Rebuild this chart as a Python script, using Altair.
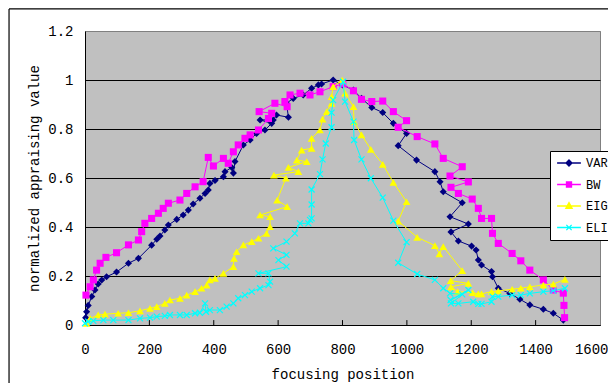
import altair as alt
import pandas as pd

SERIES = ["VAR", "BW", "EIG", "ELI"]
COLORS = ["#000080", "#FF00FF", "#FFFF00", "#00FFFF"]

VAR_X = [2, 5, 10, 21, 31, 41, 52, 67, 98, 135, 166, 207, 223, 233, 248, 259, 285, 305, 321, 336,
         357, 373, 383, 388, 404, 430, 435, 456, 461, 466, 492, 513, 533, 559, 580, 544, 585, 595, 632, 626,
         647, 678, 704, 725, 735, 771, 800, 834, 859, 891, 925, 958, 999, 973, 1030, 1087, 1103, 1113, 1172, 1134,
         1191, 1137, 1160, 1201, 1215, 1222, 1232, 1263, 1266, 1284, 1320, 1351, 1382, 1424, 1455, 1486]
VAR_Y = [0.03, 0.054, 0.08, 0.116, 0.143, 0.167, 0.184, 0.197, 0.216, 0.252, 0.272, 0.326, 0.35, 0.363, 0.388, 0.408, 0.431, 0.449, 0.469, 0.494,
         0.517, 0.537, 0.551, 0.578, 0.59, 0.605, 0.626, 0.643, 0.62, 0.667, 0.735, 0.755, 0.782, 0.796, 0.823, 0.837, 0.837, 0.857, 0.848, 0.905,
         0.925, 0.939, 0.966, 0.98, 0.984, 1.0, 0.98, 0.959, 0.925, 0.888, 0.867, 0.823, 0.782, 0.732, 0.673, 0.626, 0.585, 0.544, 0.499, 0.442,
         0.412, 0.38, 0.343, 0.322, 0.306, 0.265, 0.245, 0.218, 0.197, 0.15, 0.129, 0.105, 0.082, 0.064, 0.048, 0.02]

BW_X = [3, 16, 26, 36, 47, 65, 98, 135, 166, 176, 186, 207, 228, 243, 259, 295, 316, 342, 367, 383,
        399, 430, 445, 461, 476, 497, 513, 539, 570, 580, 541, 590, 628, 621, 637, 668, 699, 730, 771, 801,
        834, 859, 891, 925, 958, 999, 973, 1032, 1087, 1113, 1172, 1134, 1191, 1137, 1160, 1203, 1222, 1232, 1263, 1266,
        1284, 1327, 1354, 1382, 1424, 1455, 1486, 1488, 1490]
BW_Y = [0.122, 0.156, 0.184, 0.224, 0.252, 0.276, 0.295, 0.327, 0.347, 0.381, 0.415, 0.435, 0.456, 0.476, 0.497, 0.51, 0.537, 0.564, 0.585, 0.684,
        0.649, 0.68, 0.66, 0.707, 0.735, 0.762, 0.776, 0.796, 0.843, 0.864, 0.871, 0.905, 0.891, 0.912, 0.939, 0.946, 0.939, 0.952, 0.973, 0.984,
        0.956, 0.921, 0.912, 0.914, 0.871, 0.834, 0.807, 0.769, 0.739, 0.68, 0.646, 0.608, 0.584, 0.562, 0.537, 0.514, 0.476, 0.435, 0.435, 0.374,
        0.333, 0.292, 0.262, 0.224, 0.184, 0.143, 0.13, 0.08, 0.03]

EIG_X = [5, 16, 41, 62, 103, 135, 171, 202, 223, 248, 264, 295, 316, 342, 362, 378, 388, 404, 430, 461,
         463, 471, 492, 518, 539, 564, 575, 575, 544, 628, 597, 624, 587, 663, 632, 689, 658, 673, 704, 704,
         730, 738, 751, 766, 766, 771, 799, 808, 834, 836, 859, 888, 925, 958, 999, 973, 1032, 1087, 1101, 1113,
         1172, 1136, 1191, 1137, 1158, 1204, 1222, 1232, 1263, 1284, 1327, 1354, 1382, 1424, 1455, 1491]
EIG_Y = [0.007, 0.027, 0.041, 0.044, 0.048, 0.05, 0.058, 0.068, 0.075, 0.088, 0.102, 0.109, 0.122, 0.136, 0.15, 0.163, 0.184, 0.19, 0.211, 0.238,
         0.272, 0.299, 0.327, 0.34, 0.354, 0.374, 0.401, 0.442, 0.449, 0.483, 0.51, 0.599, 0.612, 0.626, 0.643, 0.667, 0.673, 0.714, 0.721, 0.762,
         0.796, 0.84, 0.871, 0.905, 0.932, 0.973, 1.0, 0.946, 0.891, 0.83, 0.776, 0.717, 0.656, 0.582, 0.503, 0.424, 0.358, 0.324, 0.29, 0.32,
         0.222, 0.181, 0.17, 0.156, 0.136, 0.132, 0.127, 0.127, 0.136, 0.139, 0.146, 0.15, 0.156, 0.163, 0.167, 0.186]

ELI_X = [0, 10, 26, 57, 88, 135, 171, 202, 223, 248, 264, 295, 316, 342, 357, 373, 376, 388, 419, 440,
         461, 476, 497, 518, 544, 570, 575, 570, 539, 626, 601, 626, 585, 626, 652, 668, 694, 699, 704, 704,
         704, 730, 738, 748, 766, 766, 771, 802, 808, 834, 836, 859, 888, 925, 958, 999, 973, 1032, 1087, 1113,
         1134, 1172, 1136, 1191, 1137, 1160, 1206, 1222, 1232, 1263, 1266, 1284, 1327, 1354, 1382, 1424, 1455, 1491]
ELI_Y = [0.007, 0.014, 0.017, 0.02, 0.02, 0.02, 0.027, 0.03, 0.034, 0.037, 0.041, 0.041, 0.041, 0.048, 0.05, 0.088, 0.054, 0.061, 0.061, 0.075,
         0.088, 0.109, 0.122, 0.136, 0.15, 0.163, 0.177, 0.211, 0.211, 0.238, 0.265, 0.286, 0.313, 0.34, 0.374, 0.415, 0.415, 0.429, 0.435, 0.492,
         0.553, 0.616, 0.676, 0.741, 0.807, 0.867, 0.918, 0.993, 0.912, 0.83, 0.755, 0.676, 0.599, 0.52, 0.426, 0.338, 0.254, 0.208, 0.184, 0.15,
         0.129, 0.125, 0.102, 0.143, 0.088, 0.088, 0.095, 0.086, 0.086, 0.095, 0.116, 0.116, 0.122, 0.122, 0.129, 0.136, 0.14, 0.15]

X_TICKS = [0, 200, 400, 600, 800, 1000, 1200, 1400, 1600]
Y_TICKS = [0, 0.2, 0.4, 0.6, 0.8, 1.0, 1.2]

FONT = "Liberation Mono"
XPATH = "M-1,-1L1,1M-1,1L1,-1"

data = {"VAR": (VAR_X, VAR_Y), "BW": (BW_X, BW_Y), "EIG": (EIG_X, EIG_Y), "ELI": (ELI_X, ELI_Y)}
rows = []
for s in SERIES:
    xs, ys = data[s]
    for i, (xv, yv) in enumerate(zip(xs, ys)):
        rows.append({"series": s, "x": xv, "y": yv, "i": i})
df = pd.DataFrame(rows)

# legend symbols: a horizontal line with the marker on it
LEG_PATHS = {
    "VAR": "M-1.7,0H1.7M0,-0.43L0.43,0L0,0.43L-0.43,0Z",
    "BW": "M-1.7,0H1.7M-0.36,-0.36H0.36V0.36H-0.36Z",
    "EIG": "M-1.7,0H1.7M0,-0.48L0.45,0.34H-0.45Z",
    "ELI": "M-1.7,0H1.7M-0.38,-0.38L0.38,0.38M-0.38,0.38L0.38,-0.38",
}
shape_expr = ("datum.value === 'VAR' ? '%s' : datum.value === 'BW' ? '%s' : datum.value === 'EIG' ? '%s' : '%s'"
              % (LEG_PATHS["VAR"], LEG_PATHS["BW"], LEG_PATHS["EIG"], LEG_PATHS["ELI"]))
color_expr = "scale('color', datum.value)"

leg = alt.Legend(
    title=None, orient="none", legendX=465, legendY=120, direction="vertical",
    fillColor="white", strokeColor="black", padding=2,
    labelFont=FONT, labelFontSize=12, labelColor="black",
    symbolSize=196, symbolOffset=9, labelOffset=9, clipHeight=20, rowPadding=1.5,
    symbolStrokeWidth=1.3, symbolOpacity=1,
    symbolType=alt.ExprRef(expr=shape_expr),
    symbolFillColor=alt.ExprRef(expr=color_expr),
    symbolStrokeColor=alt.ExprRef(expr=color_expr),
)

xenc = alt.X("x:Q", scale=alt.Scale(domain=[0, 1600], nice=False, zero=False),
             axis=alt.Axis(values=X_TICKS, format="d", ticks=False, grid=False, labelFlush=False,
                           labelAlign={"condition": {"test": "datum.value >= 1600", "value": "right"}, "value": "center"},
                           labelOffset={"condition": {"test": "datum.value >= 1600", "value": 8}, "value": 0},
                           labelPadding=17, title="focusing position", titlePadding=11,
                           labelFont=FONT, labelFontSize=14, titleFont=FONT, titleFontSize=14,
                           titleFontWeight="normal", labelColor="black", titleColor="black",
                           domainColor="black"))
yenc = alt.Y("y:Q", scale=alt.Scale(domain=[0, 1.2], nice=False),
             axis=alt.Axis(values=Y_TICKS, format=".1~f", ticks=False, grid=True, labelFlush=False,
                           gridColor={"condition": {"test": "datum.value > 1.1", "value": "#808080"}, "value": "black"},
                           gridWidth=1, gridOpacity=1,
                           labelPadding=12, title="normalized appraising value", titlePadding=6,
                           labelFont=FONT, labelFontSize=14, titleFont=FONT, titleFontSize=14,
                           titleFontWeight="normal", labelColor="black", titleColor="black",
                           domainColor="black"))
cenc = alt.Color("series:N", scale=alt.Scale(domain=SERIES, range=COLORS), legend=leg)

base = alt.Chart(df)
layers = []
fill_shapes = {"VAR": ("diamond", 50), "BW": ("square", 50), "EIG": ("triangle-up", 60)}
for s in SERIES:
    sub = base.transform_filter(alt.datum.series == s)
    layers.append(sub.mark_line(strokeWidth=1, clip=False).encode(x=xenc, y=yenc, color=cenc, order=alt.Order("i:Q")))
    if s in fill_shapes:
        shp, sz = fill_shapes[s]
        layers.append(sub.mark_point(filled=True, shape=shp, size=sz, opacity=1, clip=False).encode(x=xenc, y=yenc, color=cenc))
    else:
        layers.append(sub.mark_point(filled=False, shape=XPATH, size=36, strokeWidth=1.2, opacity=1, clip=False).encode(x=xenc, y=yenc, color=cenc))

tick_df = pd.DataFrame({"t": X_TICKS[1:-1]})
ticks = alt.Chart(tick_df).mark_rule(color="black", strokeWidth=1).encode(
    x="t:Q", y=alt.datum(0), y2=alt.datum(0.02))

# outer chart frame: its left and top edges sit just outside the axes
frame_df = pd.DataFrame({"fx": [-236], "fx2": [1700], "fy": [1.29], "fy2": [-0.3]})
frame_left = alt.Chart(frame_df).mark_rule(color="black", strokeWidth=1.2, clip=False).encode(
    x="fx:Q", y="fy:Q", y2="fy2:Q")
frame_top = alt.Chart(frame_df).mark_rule(color="black", strokeWidth=1.2, clip=False).encode(
    x="fx:Q", x2="fx2:Q", y="fy:Q")

chart = alt.layer(ticks, *layers, frame_left, frame_top).properties(
    width=515, height=294, autosize="none",
    padding={"left": 77, "top": 23, "right": 8, "bottom": 58},
    background="white",
).configure_view(fill="#C0C0C0", stroke="#808080", strokeWidth=1)

chart.save("out.html", embed_options={"renderer": "svg", "actions": False})
